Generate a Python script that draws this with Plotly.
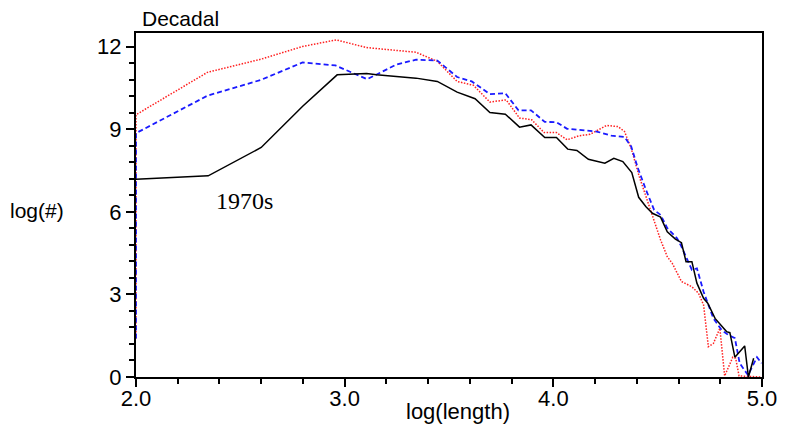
import plotly.graph_objects as go

# ---- data ----
black_x = [2.0, 2.346, 2.60, 2.80, 2.964, 3.105, 3.153, 3.342, 3.444, 3.539, 3.625, 3.696, 3.77, 3.838,
           3.893, 3.959, 4.015, 4.069, 4.113, 4.168, 4.247, 4.29, 4.333, 4.376, 4.409, 4.444, 4.475,
           4.514, 4.546, 4.585, 4.614, 4.636, 4.664, 4.688, 4.72, 4.74, 4.775, 4.806, 4.83, 4.846,
           4.87, 4.917, 4.935, 4.96]
black_y = [7.19, 7.31, 8.34, 9.85, 10.98, 11.03, 10.98, 10.86, 10.74, 10.35, 10.11, 9.61, 9.55, 9.08,
           9.16, 8.70, 8.70, 8.28, 8.23, 7.91, 7.77, 7.95, 7.83, 7.43, 6.53, 6.19, 5.95,
           5.81, 5.28, 5.01, 4.88, 4.19, 4.19, 3.41, 2.86, 2.68, 2.13, 1.85, 1.65, 1.61,
           0.72, 1.13, 0.0, 0.68]

blue_x = [2.0, 2.0, 2.342, 2.60, 2.798, 2.956, 3.108, 3.20, 3.247, 3.342, 3.444, 3.539, 3.609, 3.696,
          3.77, 3.833, 3.893, 3.959, 4.015, 4.066, 4.129, 4.208, 4.278, 4.341, 4.373, 4.405, 4.444,
          4.483, 4.514, 4.546, 4.593, 4.614, 4.664, 4.688, 4.72, 4.767, 4.806, 4.838, 4.87, 4.893,
          4.933, 4.976, 4.998]
blue_y = [1.4, 8.86, 10.22, 10.8, 11.43, 11.32, 10.82, 11.19, 11.35, 11.53, 11.5, 10.9, 10.74, 10.28,
          10.31, 9.69, 9.69, 9.27, 9.26, 9.02, 8.98, 8.92, 8.77, 8.72, 8.38, 7.59, 6.80,
          6.07, 5.89, 5.41, 5.04, 4.74, 3.89, 3.95, 3.10, 2.13, 1.71, 1.53, 1.41, 0.50,
          0.07, 0.72, 0.50]

red_x = [2.0, 2.0, 2.342, 2.60, 2.798, 2.96, 3.105, 3.20, 3.342, 3.444, 3.539, 3.617, 3.696, 3.774,
         3.838, 3.896, 3.956, 4.015, 4.066, 4.121, 4.176, 4.255, 4.31, 4.341, 4.373, 4.412, 4.444,
         4.475, 4.514, 4.546, 4.57, 4.614, 4.664, 4.696, 4.72, 4.743, 4.767, 4.798, 4.821, 4.86,
         4.874, 4.89, 4.995]
red_y = [1.4, 9.53, 11.07, 11.55, 12.01, 12.25, 11.97, 11.91, 11.8, 11.47, 10.74, 10.6, 9.99, 10.07,
         9.41, 9.35, 8.88, 8.88, 8.62, 8.76, 8.82, 9.14, 9.10, 8.92, 8.31, 7.28, 6.56,
         5.83, 4.98, 4.37, 4.13, 3.47, 3.28, 3.04, 2.62, 1.10, 1.22, 1.77, 0.04, 0.72,
         0.68, 0.04, 0.0]

y_ticks = [0, 3, 6, 9, 12]
x_ticks = [2.0, 3.0, 4.0, 5.0]
x_tick_labels = ["2.0", "3.0", "4.0", "5.0"]

FONT = "Liberation Sans, Arial, sans-serif"

fig = go.Figure()
fig.add_trace(go.Scatter(x=red_x, y=red_y, mode="lines",
                         line=dict(color="#ff2020", width=1.5, dash="1.5px,1.5px"), showlegend=False))
fig.add_trace(go.Scatter(x=blue_x, y=blue_y, mode="lines",
                         line=dict(color="#1a1aff", width=1.8, dash="5px,3px"), showlegend=False))
fig.add_trace(go.Scatter(x=black_x, y=black_y, mode="lines",
                         line=dict(color="black", width=1.5), showlegend=False))

axis_common = dict(showgrid=False, zeroline=False, showline=True, linecolor="black", linewidth=2,
                   mirror=True, ticks="outside", tickcolor="black", tickwidth=1.5, ticklen=8,
                   tickfont=dict(family=FONT, size=22, color="black"))

fig.update_xaxes(range=[2.0, 5.0], tickvals=x_ticks, ticktext=x_tick_labels,
                 ticklabelstandoff=-7,
                 minor=dict(dtick=0.2, tick0=2.0, ticks="outside", ticklen=5, tickcolor="black",
                            tickwidth=1.5),
                 **axis_common)
fig.update_yaxes(range=[0, 12.5], tickvals=y_ticks,
                 minor=dict(dtick=0.6, tick0=0, ticks="outside", ticklen=5, tickcolor="black",
                            tickwidth=1.5),
                 **axis_common)

fig.add_annotation(text="Decadal", xref="paper", yref="paper", x=0.006, y=1.041,
                   xanchor="left", yanchor="middle", showarrow=False,
                   font=dict(family=FONT, size=21, color="black"))
fig.add_annotation(text="log(#)", xref="paper", yref="paper", x=-0.1575, y=0.4826,
                   xanchor="center", yanchor="middle", showarrow=False,
                   font=dict(family=FONT, size=21, color="black"))
fig.add_annotation(text="log(length)", xref="paper", yref="paper", x=0.515, y=-0.1017,
                   xanchor="center", yanchor="middle", showarrow=False,
                   font=dict(family=FONT, size=22, color="black"))
fig.add_annotation(text="1970s", x=2.52, y=6.4, xref="x", yref="y",
                   xanchor="center", yanchor="middle", showarrow=False,
                   font=dict(family="Liberation Serif, Times New Roman, serif", size=24, color="black"))

fig.update_layout(width=789, height=429, margin=dict(l=136, r=18, t=33, b=52),
                  paper_bgcolor="white", plot_bgcolor="white")

fig.write_html("out.html")
